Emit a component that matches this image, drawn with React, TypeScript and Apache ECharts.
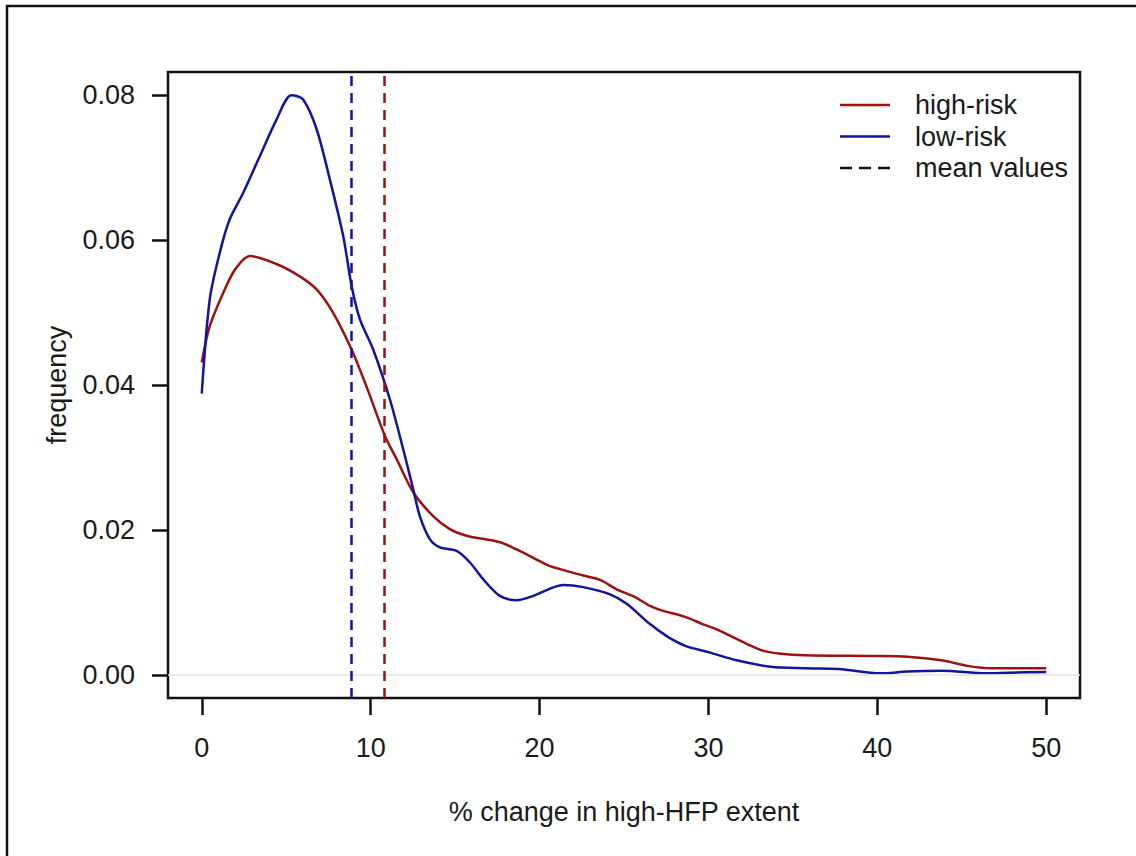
import React, { useEffect, useRef } from "react";
import * as echarts from "echarts";

// ---- data ----
const highRiskData: [number, number][] = [
  [0, 0.0431], [0.47, 0.0481], [1.46, 0.0537], [2.05, 0.0562], [2.84, 0.0578],
  [4.42, 0.0567], [5.8, 0.055], [6.8, 0.0532], [7.77, 0.05], [8.87, 0.0449],
  [9.8, 0.0395], [10.84, 0.033], [11.53, 0.0298], [12.52, 0.0252], [13.7, 0.0219],
  [14.69, 0.0201], [15.68, 0.0192], [17.65, 0.0183], [18.64, 0.0173], [20.0, 0.0157],
  [20.62, 0.015], [22.59, 0.0137], [23.58, 0.0131], [24.57, 0.0118], [25.6, 0.0108],
  [26.54, 0.0095], [27.22, 0.0089], [28.63, 0.008], [29.65, 0.007], [30.66, 0.0061],
  [32.07, 0.0045], [33.28, 0.0033], [34.29, 0.0029], [35.71, 0.0027], [39.75, 0.0026],
  [41.78, 0.0025], [43.8, 0.002], [45.42, 0.0012], [46.83, 0.0009], [50, 0.0009],
];

const lowRiskData: [number, number][] = [
  [0, 0.0388], [0.47, 0.0518], [1.07, 0.0583], [1.66, 0.0629], [2.45, 0.0665],
  [3.44, 0.0716], [4.42, 0.0766], [5.31, 0.08], [6.0, 0.0794], [6.8, 0.0753],
  [7.58, 0.0684], [8.37, 0.0606], [8.87, 0.0537], [9.36, 0.0491], [10.15, 0.0449],
  [11.14, 0.038], [11.93, 0.0311], [12.52, 0.0256], [12.91, 0.0219], [13.51, 0.0187],
  [14.1, 0.0176], [15.09, 0.0171], [15.88, 0.0155], [16.66, 0.0132], [17.65, 0.0109],
  [18.64, 0.0103], [19.63, 0.0109], [21.4, 0.0124], [22.59, 0.0121], [24.17, 0.0111],
  [25.16, 0.0098], [26.54, 0.007], [27.62, 0.0052], [28.63, 0.004], [30.05, 0.0031],
  [31.67, 0.002], [33.69, 0.0011], [35.71, 0.0009], [37.73, 0.0008], [40.16, 0.0002],
  [41.78, 0.00045], [43.8, 0.00055], [46.43, 0.0002], [47.85, 0.0003], [50, 0.0004],
];

const meanHighRisk = 10.8;
const meanLowRisk = 8.85;

const xTicks = [0, 10, 20, 30, 40, 50];
const yTicks = [0, 0.02, 0.04, 0.06, 0.08];

const legendLabels = ["high-risk", "low-risk", "mean values"];

const RED = "#9b1212";
const BLUE = "#13139b";
const FONT = "'Liberation Sans', Arial, Helvetica, sans-serif";
const TXT = "#1a1a1a";
const FS = 27;

export default function App() {
  const ref = useRef<HTMLDivElement>(null);

  useEffect(() => {
    if (!ref.current) return;
    const chart = echarts.init(ref.current, undefined, { renderer: "svg" });

    const legendColors = [RED, BLUE, "#111"];
    const legendGraphics: any[] = [];
    legendLabels.forEach((lab, i) => {
      const y = 105 + i * 31.5;
      legendGraphics.push({
        type: "line",
        shape: { x1: 840, y1: y, x2: 890, y2: y },
        style: {
          stroke: legendColors[i],
          lineWidth: 2.5,
          lineDash: i === 2 ? [12, 7] : null,
        },
      });
      legendGraphics.push({
        type: "text",
        x: 915,
        y: y,
        style: {
          text: lab,
          font: `${FS}px ${FONT}`,
          fill: TXT,
          textAlign: "left",
          textVerticalAlign: "middle",
        },
      });
    });

    chart.setOption({
      animation: false,
      backgroundColor: "#ffffff",
      grid: {
        left: 168,
        top: 72,
        width: 912,
        height: 626,
        show: true,
        borderColor: "#111",
        borderWidth: 2.5,
        containLabel: false,
      },
      xAxis: {
        type: "value",
        min: -2,
        max: 52,
        position: "bottom",
        axisLine: { show: false, onZero: false },
        splitLine: { show: false },
        axisTick: {
          show: true,
          customValues: xTicks,
          length: 17,
          inside: false,
          lineStyle: { color: "#111", width: 2.5 },
        },
        axisLabel: {
          customValues: xTicks,
          margin: 36,
          fontSize: FS,
          fontFamily: FONT,
          color: TXT,
          formatter: (v: number) => String(v),
        },
      },
      yAxis: {
        type: "value",
        min: -0.0032,
        max: 0.0832,
        position: "left",
        axisLine: { show: false, onZero: false },
        splitLine: { show: false },
        axisTick: {
          show: true,
          customValues: yTicks,
          length: 16,
          inside: false,
          lineStyle: { color: "#111", width: 2.5 },
        },
        axisLabel: {
          customValues: yTicks,
          margin: 33,
          fontSize: FS,
          fontFamily: FONT,
          color: TXT,
          formatter: (v: number) => v.toFixed(2),
        },
      },
      graphic: [
        {
          type: "rect",
          shape: { x: 7, y: 6, width: 1200, height: 1000 },
          style: { fill: "none", stroke: "#111", lineWidth: 2.5 },
          silent: true,
        },
        {
          type: "text",
          x: 624,
          y: 812,
          style: {
            text: "% change in high-HFP extent",
            font: `${FS}px ${FONT}`,
            fill: TXT,
            textAlign: "center",
            textVerticalAlign: "middle",
          },
        },
        {
          type: "text",
          x: 57,
          y: 385,
          rotation: Math.PI / 2,
          style: {
            text: "frequency",
            font: `${FS}px ${FONT}`,
            fill: TXT,
            textAlign: "center",
            textVerticalAlign: "middle",
          },
        },
        ...legendGraphics,
      ],
      series: [
        {
          name: "zero",
          type: "line",
          data: [],
          silent: true,
          markLine: {
            silent: true,
            symbol: "none",
            label: { show: false },
            lineStyle: { color: "#e6e6e6", width: 1.5, type: "solid" },
            data: [{ yAxis: 0 }],
          },
        },
        {
          name: "high-risk",
          type: "line",
          data: highRiskData,
          smooth: 0.3,
          showSymbol: false,
          lineStyle: { color: RED, width: 2.5 },
          itemStyle: { color: RED },
          markLine: {
            silent: true,
            symbol: "none",
            label: { show: false },
            lineStyle: { color: RED, width: 2.5, type: [10, 7] },
            data: [{ xAxis: meanHighRisk }],
          },
        },
        {
          name: "low-risk",
          type: "line",
          data: lowRiskData,
          smooth: 0.3,
          showSymbol: false,
          lineStyle: { color: BLUE, width: 2.5 },
          itemStyle: { color: BLUE },
          markLine: {
            silent: true,
            symbol: "none",
            label: { show: false },
            lineStyle: { color: BLUE, width: 2.5, type: [10, 7] },
            data: [{ xAxis: meanLowRisk }],
          },
        },
      ],
    });

    return () => chart.dispose();
  }, []);

  return (
    <div
      ref={ref}
      style={{ position: "fixed", left: 0, top: 0, width: 1136, height: 856, background: "#fff" }}
    />
  );
}
